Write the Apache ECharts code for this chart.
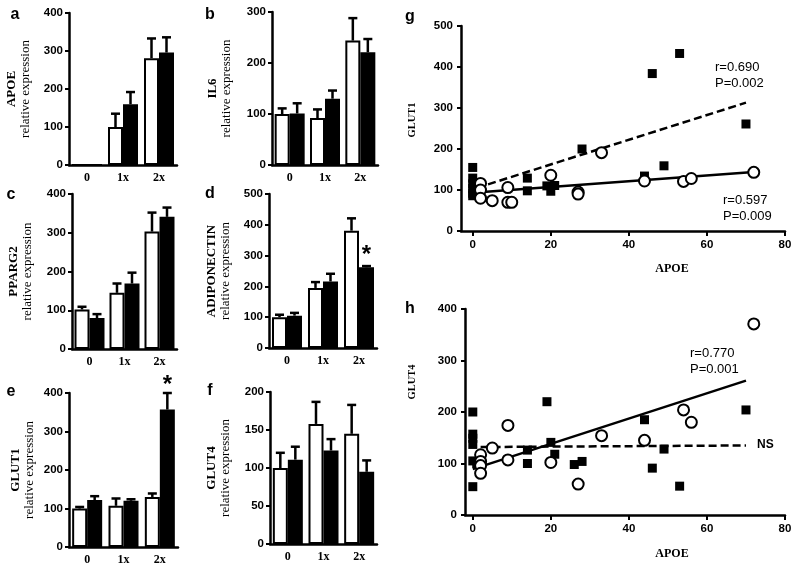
<!DOCTYPE html>
<html><head><meta charset="utf-8">
<script src="https://cdn.jsdelivr.net/npm/echarts@6/dist/echarts.min.js"></script>
<style>html,body{margin:0;padding:0;background:#fff}#c{width:800px;height:567px}</style>
</head><body><div id="c"></div>
<script>
// ---------- data ----------
const categories = ['0', '1x', '2x'];
// a: APOE
const apoeOpen = [0, 100, 281];   const apoeOpenSem = [0, 35, 52];
const apoeFilled = [0, 160, 296]; const apoeFilledSem = [0, 32, 40];
// b: IL6
const il6Open = [100, 92, 244];   const il6OpenSem = [11, 17, 44];
const il6Filled = [101, 130, 221]; const il6FilledSem = [20, 16, 26];
// c: PPARG2
const ppargOpen = [102, 145, 303]; const ppargOpenSem = [7, 24, 49];
const ppargFilled = [80, 169, 341]; const ppargFilledSem = [10, 28, 24];
// d: ADIPONECTIN
const adipoOpen = [100, 195, 381]; const adipoOpenSem = [8, 19, 40];
const adipoFilled = [105, 216, 262]; const adipoFilledSem = [9, 25, 4];
const adipoStars = ['', '', '*'];
// e: GLUT1
const glut1Open = [100, 107, 130]; const glut1OpenSem = [4, 19, 9];
const glut1Filled = [122, 120, 357]; const glut1FilledSem = [10, 4, 43];
const glut1Stars = ['', '', '*'];
// f: GLUT4
const glut4Open = [100, 158, 145]; const glut4OpenSem = [20, 29, 38];
const glut4Filled = [111, 123, 95]; const glut4FilledSem = [17, 15, 15];

// g: GLUT1 vs APOE
const gSquareApoe  = [0, 0, 0, 0, 0, 0, 1, 14, 14, 19, 20, 21, 28, 44, 46, 49, 53, 70];
const gSquareGlut1 = [155, 129, 115, 104, 92, 86, 100, 129, 98, 110, 97, 111, 200, 134, 384, 159, 433, 261];
const gCircleApoe  = [2, 2, 2, 5, 9, 9, 10, 20, 27, 27, 33, 44, 54, 56, 72];
const gCircleGlut1 = [116, 100, 80, 74, 106, 70, 70, 136, 95, 90, 191, 122, 121, 128, 143];
const gFitSquareApoe = [1, 70];  const gFitSquareGlut1 = [105, 313];
const gFitCircleApoe = [0, 72];  const gFitCircleGlut1 = [93, 144];
// h: GLUT4 vs APOE
const hSquareApoe  = [0, 0, 0, 0, 0, 0, 1, 14, 14, 19, 20, 21, 26, 28, 44, 46, 49, 53, 70];
const hSquareGlut4 = [200, 157, 149, 137, 105, 55, 100, 126, 100, 220, 141, 118, 98, 104, 185, 91, 128, 56, 204];
const hCircleApoe  = [2, 2, 2, 2, 5, 9, 9, 20, 27, 33, 44, 54, 56, 72];
const hCircleGlut4 = [117, 104, 96, 81, 130, 174, 107, 102, 60, 154, 145, 204, 180, 371];
const hFitCircleApoe = [0, 70];  const hFitCircleGlut4 = [89, 261];
const hFitSquareApoe = [2, 70];  const hFitSquareGlut4 = [132, 135];
const apoeTicks = [0, 20, 40, 60, 80];

// ---------- build ----------
const SANS = 'Liberation Sans, Arial, sans-serif';
const SERIF = 'Liberation Serif, Times New Roman, serif';
const grids = [], xAxes = [], yAxes = [], series = [];

function errSeries(i, means, sems, side) {
  return {
    type: 'custom', xAxisIndex: i, yAxisIndex: i, z: 5,
    data: means.map((m, k) => [k, m, sems[k]]),
    renderItem: function (params, api) {
      const ci = api.value(0), m = api.value(1), s = api.value(2);
      if (!s) return null;
      const base = api.coord([ci, m]);
      const top = api.coord([ci, m + s]);
      const x = base[0] + side * 7.5;
      return {
        type: 'group', children: [
          { type: 'line', shape: { x1: x, y1: base[1], x2: x, y2: top[1] }, style: { stroke: '#000', lineWidth: 2.5 } },
          { type: 'line', shape: { x1: x - 4.5, y1: top[1], x2: x + 4.5, y2: top[1] }, style: { stroke: '#000', lineWidth: 2.5 } }
        ]
      };
    }
  };
}

function barPanel(box, max, interval, gene, gap, open, openSem, filled, filledSem, stars, starDist) {
  const i = grids.length;
  grids.push(box);
  xAxes.push({
    type: 'category', gridIndex: i, data: categories,
    axisLine: { onZero: false, lineStyle: { color: '#000', width: 2.5 } },
    axisTick: { show: false },
    axisLabel: { color: '#000', fontFamily: SERIF, fontWeight: 'bold', fontSize: 12, margin: 7 }
  });
  yAxes.push({
    type: 'value', gridIndex: i, min: 0, max: max, interval: interval,
    axisLine: { show: true, onZero: false, lineStyle: { color: '#000', width: 2.5 } },
    axisTick: { show: true, length: 4, lineStyle: { color: '#000', width: 2 } },
    splitLine: { show: false },
    axisLabel: { color: '#000', fontFamily: SANS, fontWeight: 'bold', fontSize: 11.5, margin: 6 },
    name: '{g|' + gene + '}\n{r|relative expression}',
    nameLocation: 'middle', nameRotate: 90, nameGap: gap,
    nameTextStyle: {
      color: '#000', lineHeight: 14,
      rich: {
        g: { fontFamily: SERIF, fontWeight: 'bold', fontSize: 13, lineHeight: 14, color: '#000' },
        r: { fontFamily: SERIF, fontSize: 13, lineHeight: 14, color: '#000' }
      }
    }
  });
  series.push({
    type: 'bar', xAxisIndex: i, yAxisIndex: i, data: open, barWidth: 15, barGap: '0%',
    itemStyle: { color: '#fff', borderColor: '#000', borderWidth: 2 }
  });
  series.push({
    type: 'bar', xAxisIndex: i, yAxisIndex: i, barWidth: 15, barGap: '0%',
    data: filled.map((v, k) => (stars && stars[k]) ? {
      value: v, label: { show: true, formatter: stars[k], position: 'top', distance: starDist,
        fontSize: 24, fontWeight: 'bold', color: '#000', fontFamily: SANS }
    } : v),
    itemStyle: { color: '#000', borderColor: '#000', borderWidth: 2 }
  });
  series.push(errSeries(i, open, openSem, -1));
  series.push(errSeries(i, filled, filledSem, 1));
}

barPanel({ left: 69, top: 13, width: 108, height: 152 }, 400, 100, 'APOE', 36, apoeOpen, apoeOpenSem, apoeFilled, apoeFilledSem);
barPanel({ left: 272, top: 12, width: 106, height: 153 }, 300, 100, 'IL6', 38, il6Open, il6OpenSem, il6Filled, il6FilledSem);
barPanel({ left: 72, top: 194, width: 105, height: 155 }, 400, 100, 'PPARG2', 37, ppargOpen, ppargOpenSem, ppargFilled, ppargFilledSem);
barPanel({ left: 269, top: 194, width: 108, height: 154 }, 500, 100, 'ADIPONECTIN', 36, adipoOpen, adipoOpenSem, adipoFilled, adipoFilledSem, adipoStars, 0);
barPanel({ left: 69, top: 393, width: 109, height: 154 }, 400, 100, 'GLUT1', 32, glut1Open, glut1OpenSem, glut1Filled, glut1FilledSem, glut1Stars, 12);
barPanel({ left: 270, top: 392, width: 107, height: 152 }, 200, 50, 'GLUT4', 37, glut4Open, glut4OpenSem, glut4Filled, glut4FilledSem);

function scatterPanel(box, xmin, ymax, sqX, sqY, ciX, ciY, fitSqX, fitSqY, fitCiX, fitCiY, dashedIsSquare) {
  const i = grids.length;
  grids.push(box);
  xAxes.push({
    type: 'value', gridIndex: i, min: xmin, max: 80,
    axisLine: { onZero: false, lineStyle: { color: '#000', width: 2.5 } },
    axisTick: { show: true, customValues: apoeTicks, length: 5, lineStyle: { color: '#000', width: 2 } },
    axisLabel: { customValues: apoeTicks, color: '#000', fontFamily: SANS, fontWeight: 'bold', fontSize: 11.5, margin: 8 },
    splitLine: { show: false }
  });
  yAxes.push({
    type: 'value', gridIndex: i, min: 0, max: ymax, interval: 100,
    axisLine: { show: true, onZero: false, lineStyle: { color: '#000', width: 2.5 } },
    axisTick: { show: true, length: 4, lineStyle: { color: '#000', width: 2 } },
    axisLabel: { color: '#000', fontFamily: SANS, fontWeight: 'bold', fontSize: 11.5, margin: 8 },
    splitLine: { show: false }
  });
  series.push({
    type: 'line', xAxisIndex: i, yAxisIndex: i, symbol: 'none', z: 2,
    data: fitSqX.map((x, k) => [x, fitSqY[k]]),
    lineStyle: { color: '#000', width: 2.5, type: dashedIsSquare ? [8, 4] : 'solid' }
  });
  series.push({
    type: 'line', xAxisIndex: i, yAxisIndex: i, symbol: 'none', z: 2,
    data: fitCiX.map((x, k) => [x, fitCiY[k]]),
    lineStyle: { color: '#000', width: 2.5, type: dashedIsSquare ? 'solid' : [8, 4] }
  });
  series.push({
    type: 'scatter', xAxisIndex: i, yAxisIndex: i, symbol: 'rect', symbolSize: 9, z: 3,
    data: sqX.map((x, k) => [x, sqY[k]]), itemStyle: { color: '#000', opacity: 1 }
  });
  series.push({
    type: 'scatter', xAxisIndex: i, yAxisIndex: i, symbol: 'circle', symbolSize: 11, z: 4,
    data: ciX.map((x, k) => [x, ciY[k]]),
    itemStyle: { color: '#fff', borderColor: '#000', borderWidth: 2, opacity: 1 }
  });
}

scatterPanel({ left: 461, top: 26, width: 324, height: 205 }, -3, 500,
  gSquareApoe, gSquareGlut1, gCircleApoe, gCircleGlut1,
  gFitSquareApoe, gFitSquareGlut1, gFitCircleApoe, gFitCircleGlut1, true);
scatterPanel({ left: 465, top: 309, width: 320, height: 206 }, -2, 400,
  hSquareApoe, hSquareGlut4, hCircleApoe, hCircleGlut4,
  hFitSquareApoe, hFitSquareGlut4, hFitCircleApoe, hFitCircleGlut4, true);

function txt(x, y, s, font, align, vAlign, rot) {
  return { type: 'text', x: x, y: y, rotation: rot || 0, style: {
    text: s, font: font, fill: '#000', align: align || 'left', verticalAlign: vAlign || 'middle', lineHeight: 16 } };
}
const LET = 'bold 16px ' + SANS;
const graphics = [
  txt(15, 15, 'a', LET, 'center'), txt(210, 15, 'b', LET, 'center'),
  txt(11, 195, 'c', LET, 'center'), txt(210, 194, 'd', LET, 'center'),
  txt(11, 392, 'e', LET, 'center'), txt(210, 391, 'f', LET, 'center'),
  txt(410, 17, 'g', LET, 'center'), txt(410, 309, 'h', LET, 'center'),
  txt(412, 120, 'GLUT1', 'bold 10.5px ' + SERIF, 'center', 'middle', Math.PI / 2),
  txt(412, 382, 'GLUT4', 'bold 10.5px ' + SERIF, 'center', 'middle', Math.PI / 2),
  txt(672, 269, 'APOE', 'bold 12px ' + SERIF, 'center'),
  txt(672, 554, 'APOE', 'bold 12px ' + SERIF, 'center'),
  txt(715, 59, 'r=0.690\nP=0.002', '13px ' + SANS, 'left', 'top'),
  txt(723, 192, 'r=0.597\nP=0.009', '13px ' + SANS, 'left', 'top'),
  txt(690, 345, 'r=0.770\nP=0.001', '13px ' + SANS, 'left', 'top'),
  txt(757, 445, 'NS', 'bold 12px ' + SANS, 'left', 'middle')
];

const chart = echarts.init(document.getElementById('c'), null, { renderer: 'canvas' });
chart.setOption({
  animation: false, backgroundColor: '#fff',
  grid: grids, xAxis: xAxes, yAxis: yAxes, series: series, graphic: graphics
});
</script></body></html>
